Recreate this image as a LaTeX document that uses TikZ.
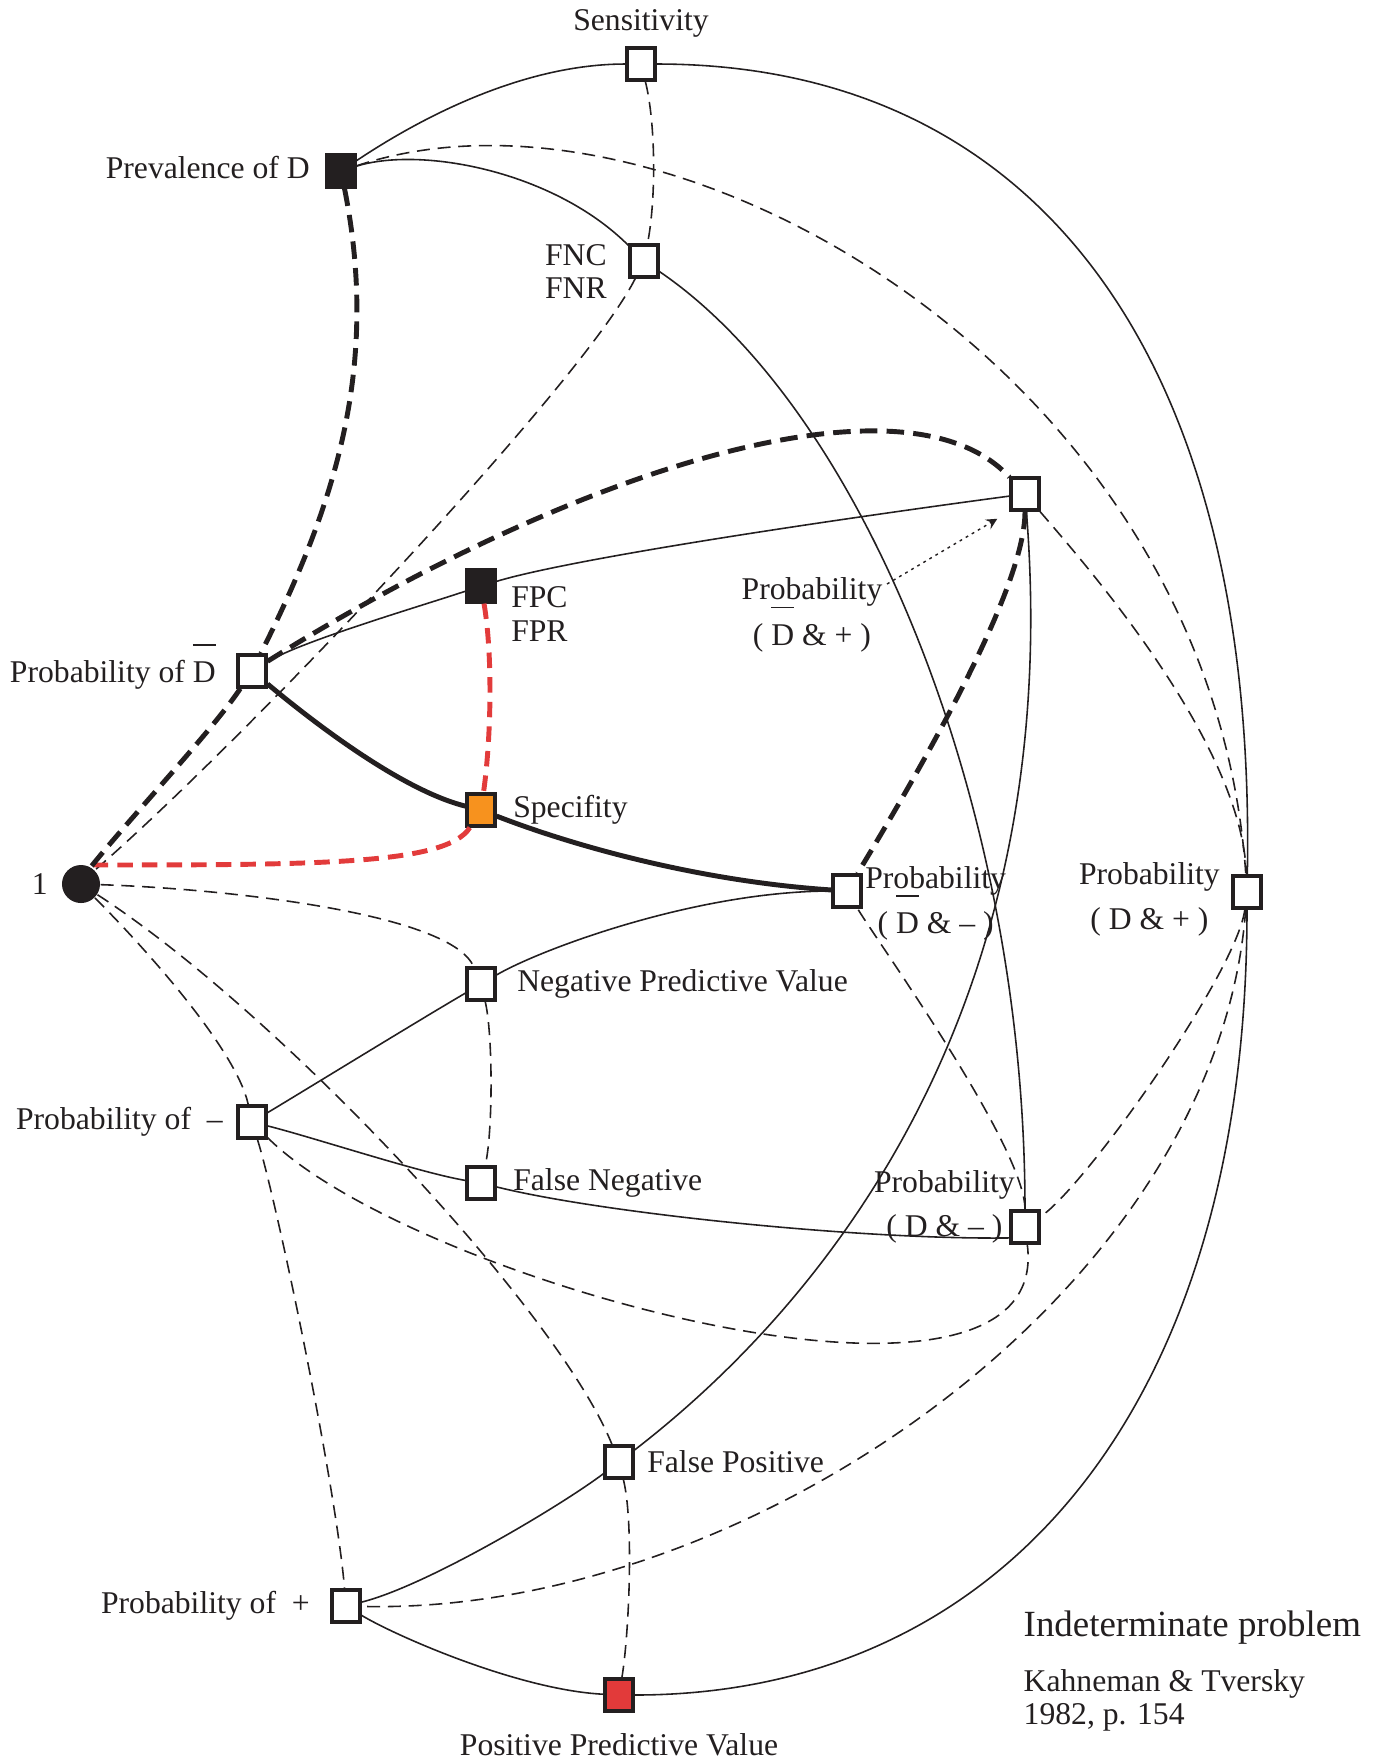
\documentclass[tikz,border=0pt]{standalone}
\usepackage{fontspec}
\setmainfont{Liberation Serif}
\usepackage{xcolor}
\usepackage{tikz}
\usetikzlibrary{arrows, positioning}
\definecolor{ink}{HTML}{231F20}
\definecolor{specorange}{HTML}{F7921E}
\definecolor{ppvred}{HTML}{E23A3A}
\definecolor{linered}{HTML}{E23B3B}
\newcommand{\Dbar}{\rlap{\smash{\raisebox{10.5pt}{\rule{6.5pt}{0.45pt}}}}D}
\tikzstyle{box} = [rectangle, minimum width=0.28cm, minimum height=0.32cm, inner sep=0pt, draw=ink, line width=0.9pt, fill=white]
\tikzstyle{dot} = [circle, minimum size=0.38cm, inner sep=0pt, fill=ink]
\tikzstyle{boxlabel} = [inner sep=0pt, font=\fontsize{9}{9.5}\selectfont, text=ink]
\tikzstyle{problabel} = [boxlabel, align=center]
\tikzstyle{link} = [line width=0.45pt, draw=ink]
\tikzstyle{heavylink} = [line width=1.4pt, draw=ink]
\tikzstyle{sumlink} = [line width=0.45pt, draw=ink, dash pattern=on 3.7pt off 2.2pt]
\tikzstyle{heavysum} = [line width=1.4pt, draw=ink, dash pattern=on 5pt off 2.6pt]
\tikzstyle{redsum} = [line width=1.4pt, draw=linered, dash pattern=on 4.4pt off 2.6pt]
\tikzstyle{pointer} = [line width=0.4pt, draw=ink, dash pattern=on 0.8pt off 1.2pt, ->, >=stealth]

\begin{document}
\begin{tikzpicture}[x=0.01cm, y=-0.01cm]
    \useasboundingbox (0,0) rectangle (1380,1759);

    % Nodes
    \node (S) [box] at (641,64) {};
    \node (P) [box, fill=ink] at (341,171) {};
    \node (F) [box] at (644,261) {};
    \node (A) [box] at (1025,494) {};
    \node (C) [box, fill=ink] at (481,586) {};
    \node (B) [box] at (252,671) {};
    \node (Sp) [box, fill=specorange] at (481,810) {};
    \node (O) [dot] at (81,884) {};
    \node (Am) [box] at (847,891) {};
    \node (Dp) [box] at (1247,892) {};
    \node (N) [box] at (481,984) {};
    \node (M) [box] at (252,1122) {};
    \node (Fn) [box] at (481,1183) {};
    \node (Dm) [box] at (1025,1227) {};
    \node (Fp) [box] at (619,1462) {};
    \node (Pp) [box] at (346,1606) {};
    \node (V) [box, fill=ppvred] at (619,1695) {};

    % Labels
    \node (sensLbl) [boxlabel, above=0.08cm of S] {Sensitivity};
    \node (prevLbl) [boxlabel, left=0.15cm of P, yshift=0.04cm] {Prevalence of D};
    \node (fncLbl) [boxlabel, align=left, left=0.21cm of F.north west, anchor=north east] {FNC\\FNR};
    \node (fpcLbl) [boxlabel, align=left, right=0.14cm of C.east, anchor=north west] {FPC\\FPR};
    \node (pdbLbl) [boxlabel, left=0.2cm of B, yshift=-0.04cm] {Probability of \Dbar};
    \node (specLbl) [boxlabel, right=0.16cm of Sp] {Specifity};
    \node (oneLbl) [boxlabel, left=0.13cm of O] {1};
    \node (pdbpLbl) [problabel, anchor=north] at (812,577) {Probability\\[3.5pt]( \Dbar{} \& + )};
    \node (pdbmLbl) [problabel, right=0.02cm of Am.north east, anchor=north west, yshift=0.08cm] {Probability\\[3.5pt]( \Dbar{} \& – )};
    \node (pdpLbl) [problabel, left=0.11cm of Dp.north west, anchor=north east, yshift=0.13cm] {Probability\\[3.5pt]( D \& + )};
    \node (npvLbl) [boxlabel, right=0.2cm of N] {Negative Predictive Value};
    \node (pmLbl) [boxlabel, left=0.13cm of M] {Probability of\enspace–};
    \node (fnLbl) [boxlabel, right=0.16cm of Fn] {False Negative};
    \node (pdmLbl) [problabel, left=-0.06cm of Dm.north west, anchor=north east, yshift=0.4cm] {Probability\\[3pt]( D \& – )};
    \node (fpLbl) [boxlabel, right=0.12cm of Fp] {False Positive};
    \node (ppLbl) [boxlabel, left=0.2cm of Pp] {Probability of\enspace+};
    \node (ppvLbl) [boxlabel, below=0.2cm of V] {Positive Predictive Value};
    \node (title) [inner sep=0pt, anchor=base west, font=\fontsize{10.5}{12}\selectfont, text=ink] at (1023,1636) {Indeterminate problem};
    \node (source) [boxlabel, align=left, below right=0.24cm and 0cm of title.south west] {Kahneman \& Tversky\\1982, p. 154};

    % Products
    \draw [link] (P) .. controls +(60,-40) and +(-130,0) .. (S);
    \draw [link] (S) .. controls +(400,0) and +(10,-530) .. (Dp);
    \draw [link] (P) .. controls +(80,-25) and +(-90,-90) .. (F);
    \draw [link] (F) .. controls +(220,150) and +(0,-420) .. (Dm);
    \draw [link] (B) .. controls +(50,-30) and +(-60,20) .. (C);
    \draw [link] (C) .. controls +(100,-30) and +(-150,20) .. (A);
    \draw [heavylink] (B) .. controls +(60,50) and +(-80,-20) .. (Sp);
    \draw [heavylink] (Sp) .. controls +(90,35) and +(-150,-10) .. (Am);
    \draw [link] (M) .. controls +(50,-30) and +(-60,35) .. (N);
    \draw [link] (N) .. controls +(60,-35) and +(-150,0) .. (Am);
    \draw [link] (M) .. controls +(60,15) and +(-60,-10) .. (Fn);
    \draw [link] (Fn) .. controls +(120,30) and +(-150,2) .. (Dm.215);
    \draw [link] (Pp) .. controls +(80,-20) and +(-60,45) .. (Fp);
    \draw [link] (Fp) .. controls +(220,-170) and +(40,500) .. (A);
    \draw [link] (Pp) .. controls +(50,30) and +(-100,-5) .. (V);
    \draw [link] (V) .. controls +(380,0) and +(0,520) .. (Dp);

    % Sums
    \draw [sumlink] (S) .. controls +(15,60) and +(12,-60) .. (F);
    \draw [sumlink] (F) .. controls +(-60,120) and +(150,-130) .. (O.45);
    \draw [redsum] (C) .. controls +(12,70) and +(10,-70) .. (Sp);
    \draw [redsum] (Sp) .. controls +(-35,55) and +(230,0) .. (O.75);
    \draw [heavysum] (P) .. controls +(40,200) and +(80,-160) .. (B);
    \draw [heavysum] (B) .. controls +(-40,60) and +(40,-50) .. (O.60);
    \draw [heavysum] (B) .. controls +(320,-200) and +(-120,-130) .. (A);
    \draw [heavysum] (A) .. controls +(0,100) and +(60,-100) .. (Am);
    \draw [sumlink] (P) .. controls +(330,-110) and +(-35,-520) .. (Dp);
    \draw [sumlink] (Dp) .. controls +(-10,80) and +(60,-40) .. (Dm);
    \draw [sumlink] (A) .. controls +(60,70) and +(-5,-150) .. (Dp);
    \draw [sumlink] (Dp) .. controls +(-30,400) and +(400,10) .. (Pp);
    \draw [sumlink] (O) .. controls +(150,5) and +(-30,-70) .. (N);
    \draw [sumlink] (N) .. controls +(12,50) and +(12,-50) .. (Fn);
    \draw [sumlink] (O) .. controls +(70,70) and +(-15,-70) .. (M);
    \draw [sumlink] (M) .. controls +(25,80) and +(-10,-120) .. (Pp);
    \draw [sumlink] (O) .. controls +(200,130) and +(-60,-150) .. (Fp);
    \draw [sumlink] (Fp) .. controls +(15,60) and +(10,-60) .. (V);
    \draw [sumlink] (M) .. controls +(160,160) and +(30,230) .. (Dm);
    \draw [sumlink] (Dm) .. controls +(0,-80) and +(30,50) .. (Am);

    % Pointer
    \draw [pointer, shorten >=4pt] ([shift={(4,7)}]pdbpLbl.north east) -- (A.south west);
\end{tikzpicture}
\end{document}
